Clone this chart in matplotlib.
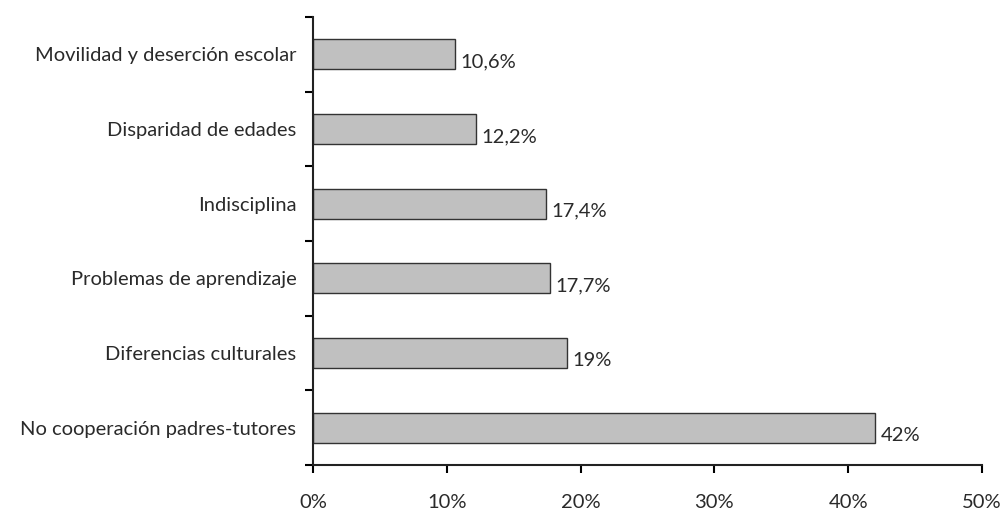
import matplotlib.pyplot as plt
import numpy as np

# categories listed top to bottom
categories = ['Movilidad y deserción escolar', 'Disparidad de edades', 'Indisciplina',
              'Problemas de aprendizaje', 'Diferencias culturales',
              'No cooperación padres-tutores']
values = [10.6, 12.2, 17.4, 17.7, 19.0, 42.0]
value_labels = ['10,6%', '12,2%', '17,4%', '17,7%', '19%', '42%']
xticks = [0, 10, 20, 30, 40, 50]

plt.rcParams['font.family'] = ['Lato', 'DejaVu Sans']
FS = 14.5
TXT = '#2a2a2a'

fig = plt.figure(figsize=(10.03, 5.12), dpi=100)
ax = fig.add_axes([313/1003, 1 - 465/512, (982 - 313)/1003, (465 - 17)/512])

n = len(categories)
ypos = np.arange(n)[::-1]  # first category at top
ax.barh(ypos, values, height=0.4, color='#c0c0c0', edgecolor='#333333', linewidth=1)

for y, v, lab in zip(ypos, values, value_labels):
    ax.text(v + 0.4, y - 0.1, lab, va='center', ha='left', fontsize=FS, color=TXT)

ax.set_xlim(0, 50)
ax.set_ylim(-0.5, n - 0.5)
ax.set_xticks(xticks)
ax.set_xticklabels([f'{t}%' for t in xticks], fontsize=FS, color=TXT)
ax.tick_params(axis='x', direction='out', length=6, width=1.5, pad=15)

# category labels as minor ticks, tick marks between categories
ax.set_yticks(np.arange(-0.5, n, 1.0))
ax.set_yticklabels([])
ax.tick_params(axis='y', which='major', direction='out', length=6, width=1.5)
ax.set_yticks(ypos, minor=True)
ax.set_yticklabels(categories, minor=True, fontsize=FS, color=TXT)
ax.tick_params(axis='y', which='minor', length=0, pad=12)

for s in ['top', 'right']:
    ax.spines[s].set_visible(False)
for s in ['left', 'bottom']:
    ax.spines[s].set_linewidth(1.5)
    ax.spines[s].set_color('#222222')

fig.savefig('out.png', dpi=100)
